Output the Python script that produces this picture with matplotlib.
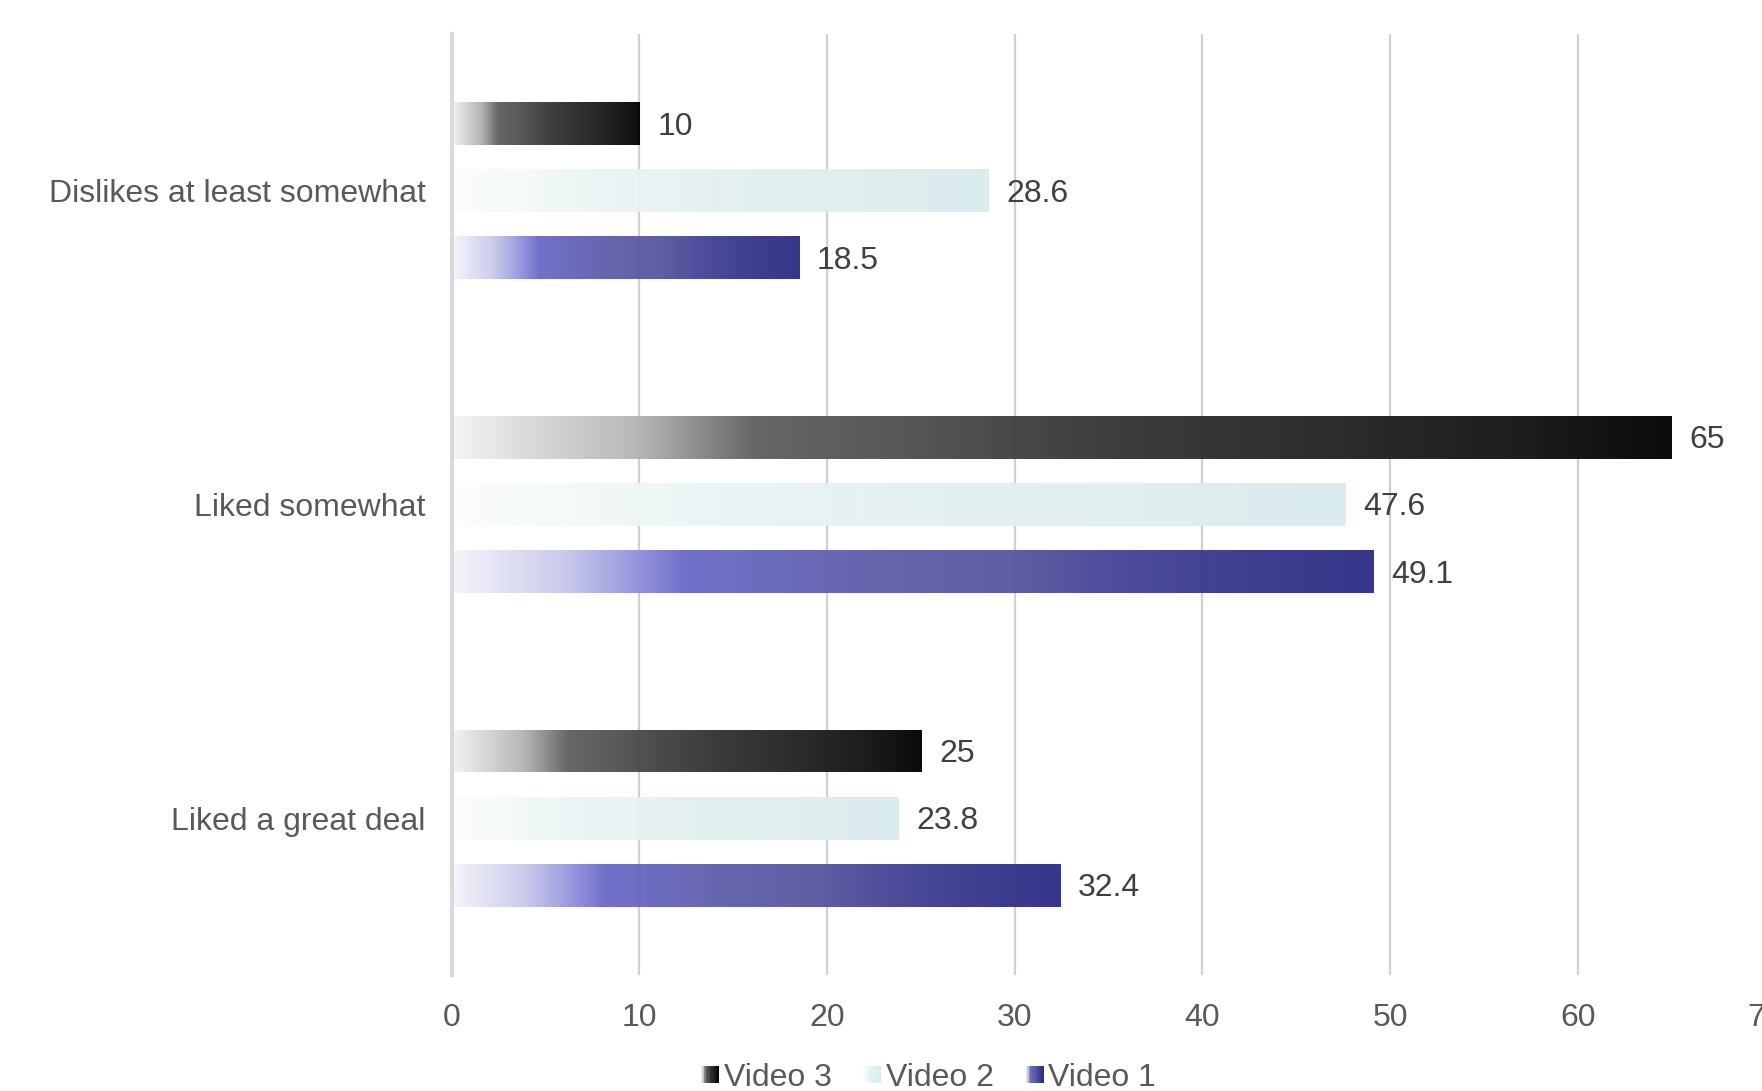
import numpy as np
import matplotlib
matplotlib.use("Agg")
import matplotlib.pyplot as plt
from matplotlib.colors import LinearSegmentedColormap
from matplotlib.patches import Rectangle
from matplotlib.legend_handler import HandlerBase

plt.rcParams['font.family'] = ['Liberation Sans', 'DejaVu Sans']

# --- data ---
categories = ["Dislikes at least somewhat", "Liked somewhat", "Liked a great deal"]
series_names = ["Video 3", "Video 2", "Video 1"]
video3 = [10, 65, 25]
video2 = [28.6, 47.6, 23.8]
video1 = [18.5, 49.1, 32.4]
x_ticks = [0, 10, 20, 30, 40, 50, 60, 70]

# --- gradient fills for each series ---
cmaps = {
    "Video 3": LinearSegmentedColormap.from_list("v3", [
        (0.0, "#f3f3f3"), (0.152, "#b3b3b3"), (0.246, "#606060"), (0.33, "#555555"),
        (0.53, "#363636"), (0.73, "#222222"), (0.86, "#151515"), (1.0, "#000000")]),
    "Video 2": LinearSegmentedColormap.from_list("v2", [
        (0.0, "#fcfdfd"), (0.3, "#eaf4f4"), (0.55, "#e2f0f0"), (1.0, "#daecee")]),
    "Video 1": LinearSegmentedColormap.from_list("v1", [
        (0.0, "#f5f5fb"), (0.12, "#c8c8ec"), (0.2, "#9090dc"), (0.25, "#6a6ac8"),
        (0.43, "#6060ae"), (0.6, "#5858a0"), (0.7, "#48489a"), (0.82, "#3a3a8e"),
        (1.0, "#2d2d86")]),
}

fig = plt.figure(figsize=(17.62, 10.91), dpi=100)
ax = fig.add_axes([0.2564, 0.1063, 0.7456, 0.8628])

y = np.arange(len(categories))
offset = 0.214
height = 0.137
values = {"Video 3": video3, "Video 2": video2, "Video 1": video1}
offsets = {"Video 3": -offset, "Video 2": 0.0, "Video 1": offset}

grad = np.linspace(0, 1, 512).reshape(1, -1)
for name in series_names:
    bars = ax.barh(y + offsets[name], values[name], height=height,
                   facecolor="none", edgecolor="none", zorder=2)
    for bar in bars:
        x0, y0 = bar.get_x(), bar.get_y()
        w, h = bar.get_width(), bar.get_height()
        im = ax.imshow(grad, cmap=cmaps[name], aspect="auto",
                       extent=[x0, x0 + w, y0, y0 + h], alpha=0.96,
                       interpolation="bilinear", zorder=2)
        im.set_clip_path(bar)
    texts = ax.bar_label(bars, labels=[f"{v:g}" for v in values[name]], padding=13,
                         fontsize=23, color="#404040")
    for t in texts:
        t.xyann = (13, -2.2)

ax.set_xlim(0, 70)
ax.set_ylim(len(categories) - 0.5, -0.5)
ax.set_xticks(x_ticks)
ax.set_yticks(y)
ax.set_yticklabels(categories)
ax.tick_params(axis="both", length=0, labelsize=23, labelcolor="#595959")
ax.tick_params(axis="x", pad=20.5)
ax.tick_params(axis="y", pad=19)

ax.grid(axis="x", color="#d0d0d0", linewidth=1.6, zorder=0)
ax.set_axisbelow(True)
for side in ("top", "right", "bottom"):
    ax.spines[side].set_visible(False)
ax.spines["left"].set_color("#d9d9d9")
ax.spines["left"].set_linewidth(3)


class GradientSquare(HandlerBase):
    def __init__(self, cmap):
        super().__init__()
        self.cmap = cmap

    def create_artists(self, legend, orig_handle, xdescent, ydescent,
                       width, height, fontsize, trans):
        n = 12
        side = min(width, height)
        x0 = -xdescent + (width - side)
        y0 = -ydescent + (height - side) / 2
        artists = []
        for i in range(n):
            r = Rectangle((x0 + side * i / n, y0), side / n + 0.3, side,
                          facecolor=self.cmap((i + 0.5) / n), edgecolor="none",
                          transform=trans)
            artists.append(r)
        return artists


handles = [Rectangle((0, 0), 1, 1) for _ in series_names]
handler_map = {h: GradientSquare(cmaps[n]) for h, n in zip(handles, series_names)}
fig.legend(handles, series_names, handler_map=handler_map, loc="center",
           bbox_to_anchor=(0.527, 0.012), ncol=3, frameon=False, fontsize=23,
           labelcolor="#595959", handlelength=0.55, handleheight=0.55,
           handletextpad=0.15, columnspacing=1.0)

fig.savefig("out.png", dpi=100, facecolor="white")
